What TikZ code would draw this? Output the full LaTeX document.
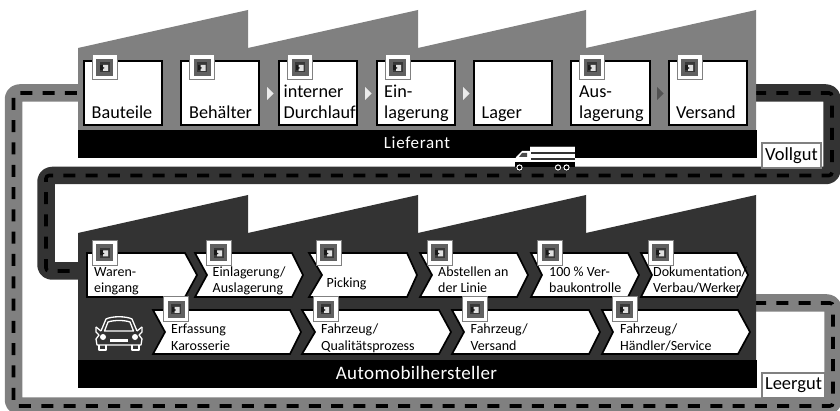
\documentclass[tikz,border=0pt]{standalone}
\usepackage{fontspec}
\setmainfont{Carlito}
\definecolor{facgray}{HTML}{808080}
\definecolor{facdark}{HTML}{333333}
\tikzset{
  band/.style={line width=17.5pt,rounded corners=6pt,line join=round},
  dashline/.style={line width=3.6pt,black,dash pattern=on 12pt off 10.3pt,rounded corners=3pt},
  station/.style={draw=black,line width=1.7pt,fill=white},
  stationtext/.style={anchor=base west,inner sep=0pt,font=\fontsize{18.2}{20}\selectfont,align=left},
  chevtext/.style={anchor=base west,inner sep=0pt,font=\fontsize{14}{16}\selectfont,align=left},
  chevron/.style={draw=black,line width=1.7pt,fill=white,line join=miter},
  barlabel/.style={inner sep=0pt,text=white},
  tagbox/.style={draw=facgray,line width=1.2pt,fill=white,inner sep=0pt,font=\fontsize{18.5}{20}\selectfont},
  iconpic/.pic={
    \fill[white] (0,0) rectangle (25,25);
    \draw[facgray,line width=1pt] (0,0) rectangle (25,25);
    \fill[black!62] (4,4) rectangle (21,21);
    \fill[black!78] (7.5,7.5) rectangle (17.5,17.5);
    \fill[black!90] (8,10) rectangle (12,15);
    \fill[black!12] (11,10) -- (16,10) -- (16,16) -- (11,16) -- (11,14) -- (13,13) -- (11,12) -- cycle;
  }
}
\newcommand{\chevA}[6]{\draw[chevron] (#1,#5) -- (#3,#5) -- (#4,{(#5+#6)/2}) -- (#3,#6) -- (#1,#6) -- cycle;}
\newcommand{\chevB}[6]{\draw[chevron] (#1,#5) -- (#3,#5) -- (#4,{(#5+#6)/2}) -- (#3,#6) -- (#1,#6) -- (#2,{(#5+#6)/2}) -- cycle;}
\begin{document}
\begin{tikzpicture}[x=1pt,y=-1pt]
\useasboundingbox (0,0) rectangle (840,411);
\clip (0,0) rectangle (840,411);
% anchors of the loops
\coordinate (supL) at (80,93);
\coordinate (supR) at (754,93);
\coordinate (oemL) at (80,271);
\coordinate (oemR) at (754,303);
% return loop
\draw[band,facgray] (oemR) -| (833,406) -| (13.5,93) -- (supL);
\draw[dashline] (oemR) -| (833,406) -| (13.5,93) -- (supL);
% full loop
\draw[band,facdark] (supR) -| (832,175.5) -| (46,271) -- (oemL);
\draw[dashline] (supR) -| (832,175.5) -| (46,271) -- (oemL);
% supplier factory
\fill[facgray] (78,48) -- (248,10) -- (248,48) -- (418,10) -- (418,48) -- (586,10) -- (586,48) -- (756,10) -- (756,131) -- (78,131) -- cycle;
\node[fill=black,minimum width=679pt,minimum height=27.5pt,inner sep=0pt,anchor=north west] (supbar) at (78,130) {};
\node[barlabel,anchor=base,font=\fontsize{17}{20}\selectfont] (suplabel) at (417,148.5) {\addfontfeature{LetterSpace=4}Lieferant};
% supplier stations
\foreach \a/\b in {84/162,181/259,279/357,377/455,474/552,571/650,669/747}
  \draw[station] (\a,61) rectangle (\b,125);
\foreach \x in {92,189.5,287.5,385,579.5,677}
  \pic at (\x,55) {iconpic};
\foreach \x in {267,365,463}
  \fill[white!92!black] (\x,87) -- (\x+6.5,93.5) -- (\x,100) -- cycle;
\fill[black!68] (657,87) -- (663.5,93.5) -- (657,100) -- cycle;
\node[stationtext] (t1) at (91.5,119) {Bauteile};
\node[stationtext] (t2) at (189,119) {Behälter};
\node[stationtext] (t3a) at (283.5,98) {interner};
\node[stationtext] (t3b) at (283.5,119) {Durchlauf};
\node[stationtext] (t4a) at (384,98) {Ein-};
\node[stationtext] (t4b) at (384,119) {lagerung};
\node[stationtext] (t5) at (481.5,119) {Lager};
\node[stationtext] (t6a) at (579,98) {Aus-};
\node[stationtext] (t6b) at (579,119) {lagerung};
\node[stationtext] (t7) at (676,119) {Versand};
% truck
\fill[white] (530,147) rectangle (574.5,163);
\fill[black!75] (530,146.5) rectangle (574.5,147.5);
\fill[black!80] (531,152.5) rectangle (574.5,154);
\fill[black!80] (531,158.5) rectangle (574.5,160);
\fill[white] (515.5,163) -- (516,157) -- (522,151) -- (530,151) -- (530,163) -- cycle;
\fill[black!70] (522,153) -- (527,153) -- (527,157) -- (519,157) -- cycle;
\fill[black] (515,162.5) rectangle (575,167.5);
\foreach \x in {519.5,558,566.5}{
  \fill[black] (\x,167.5) circle (3.6pt);
  \draw[white,line width=1pt] (\x,167.5) circle (2.6pt);
}
% manufacturer factory
\fill[facdark] (78,233) -- (248,195) -- (248,233) -- (418,195) -- (418,233) -- (586,195) -- (586,233) -- (756,195) -- (756,361) -- (78,361) -- cycle;
\node[fill=black,minimum width=679pt,minimum height=28pt,inner sep=0pt,anchor=north west] (oembar) at (78,360) {};
\node[barlabel,anchor=base,font=\fontsize{19}{22}\selectfont] (oemlabel) at (416.5,379) {\addfontfeature{LetterSpace=2}Automobilhersteller};
% chevrons row 1
\chevA{87}{87}{185}{197}{253}{297}
\chevB{195}{207}{292}{303}{253}{297}
\chevB{309}{322}{407}{417}{253}{297}
\chevB{420}{432}{517}{528}{253}{297}
\chevB{531}{542}{628}{639}{253}{297}
\chevB{641}{652}{737}{748}{253}{297}
% chevrons row 2
\chevB{153}{165}{290}{301}{310}{354}
\chevB{302}{315}{439}{451}{310}{354}
\chevB{452}{464}{589}{600}{310}{354}
\chevB{602}{613}{738}{750}{310}{354}
\foreach \x in {92,206,316,427,537.5,648}
  \pic at (\x,240.5) {iconpic};
\foreach \x in {163.5,313,462.5,612}
  \pic at (\x,297) {iconpic};
\node[chevtext] (c1a) at (94,277) {Waren-};
\node[chevtext] (c1b) at (94,293) {eingang};
\node[chevtext] (c2a) at (212.5,277) {Einlagerung/};
\node[chevtext] (c2b) at (212.5,293) {Auslagerung};
\node[chevtext] (c3) at (326.5,288) {Picking};
\node[chevtext] (c4a) at (438,277) {Abstellen an};
\node[chevtext] (c4b) at (438,293) {der Linie};
\node[chevtext] (c5a) at (549,277) {100 \% Ver-};
\node[chevtext] (c5b) at (549,293) {baukontrolle};
\node[chevtext] (c6a) at (653,277) {Dokumentation/};
\node[chevtext] (c6b) at (653,293) {Verbau/Werker};
\node[chevtext] (d1a) at (171,334) {Erfassung};
\node[chevtext] (d1b) at (171,350) {Karosserie};
\node[chevtext] (d2a) at (321,334) {Fahrzeug/};
\node[chevtext] (d2b) at (321,350) {Qualitätsprozess};
\node[chevtext] (d3a) at (470.5,334) {Fahrzeug/};
\node[chevtext] (d3b) at (470.5,350) {Versand};
\node[chevtext] (d4a) at (620,334) {Fahrzeug/};
\node[chevtext] (d4b) at (620,350) {Händler/Service};
% car
\begin{scope}[white,line width=1.3pt,line join=round]
  \draw (101,331) -- (106,319) .. controls (112,316) and (126,316) .. (132,319) -- (137,331);
  \draw (104.5,331) -- (108,322) .. controls (114,320) and (124,320) .. (130,322) -- (133.5,331) -- cycle;
  \draw (101,331) -- (96,327) (137,331) -- (142,327);
  \draw (96,327) -- (96,332) -- (99,335) -- (96,339) -- (97,345) -- (141,345) -- (142,339) -- (139,335) -- (142,332) -- (142,327);
  \draw (99,345) -- (99,350) -- (106,350) -- (106,345);
  \draw (132,345) -- (132,350) -- (139,350) -- (139,345);
  \fill (103,337) circle (3pt);
  \fill (135,337) circle (3pt);
  \fill (110,338.5) rectangle (128,341.5);
\end{scope}
% tags
\node[tagbox,minimum width=59pt,minimum height=25pt,anchor=center] (vollgut) at (791.5,155.5) {Vollgut};
\node[tagbox,minimum width=63pt,minimum height=25pt,anchor=center] (leergut) at (793.5,385.5) {Leergut};
\end{tikzpicture}
\end{document}
